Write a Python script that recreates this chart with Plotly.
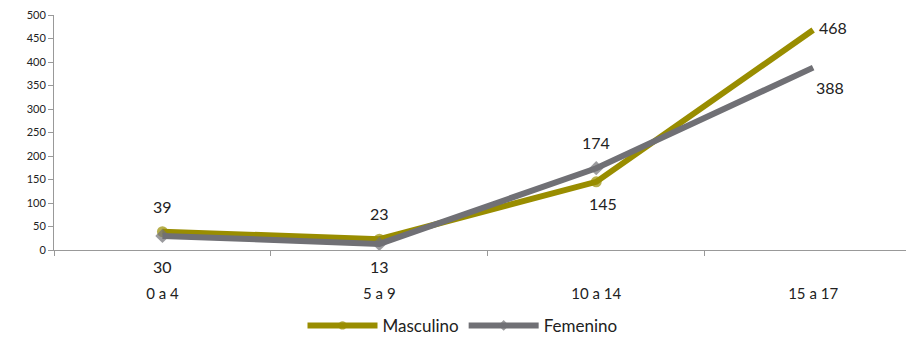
import plotly.graph_objects as go

categorias = ["0 a 4", "5 a 9", "10 a 14", "15 a 17"]
masculino = [39, 23, 145, 468]
femenino = [30, 13, 174, 388]

verde = "rgb(153,141,0)"
gris = "rgb(112,112,117)"
fuente = "Lato"

fig = go.Figure()
fig.add_trace(go.Scatter(x=categorias, y=masculino, name="Masculino", mode="lines+markers",
                         line=dict(color=verde, width=6),
                         marker=dict(symbol="circle", size=[11, 11, 11, 0], color=verde,
                                     line=dict(width=0))))
fig.add_trace(go.Scatter(x=categorias, y=femenino, name="Femenino", mode="lines+markers",
                         line=dict(color=gris, width=6),
                         marker=dict(symbol="diamond", size=[11, 11, 11, 0], color=gris,
                                     line=dict(width=0))))

# etiquetas de valores (desplazamiento en px)
pos_m = [(0, 25), (0, 26), (7, -22), (20, 3)]
pos_f = [(0, -31), (0, -23), (0, 26), (17, -20)]
for serie, pos in ((masculino, pos_m), (femenino, pos_f)):
    for cat, val, (dx, dy) in zip(categorias, serie, pos):
        fig.add_annotation(x=cat, y=val, text=str(val), showarrow=False,
                           xshift=dx, yshift=dy, font=dict(size=16, color="#222", family=fuente))

# la pagina tiene 8px de margen en el body
fig.update_layout(
    width=906, height=332,
    margin=dict(l=46, r=0, t=7, b=90, autoexpand=False),
    paper_bgcolor="white", plot_bgcolor="white",
    font=dict(family=fuente, color="#333"),
    showlegend=True,
    legend=dict(orientation="h", x=0.475, xanchor="center", y=-0.323, yanchor="middle",
                font=dict(size=17, color="#222"), itemwidth=70),
)
fig.update_xaxes(range=[-0.5, 3.465], showline=True, linecolor="#999", linewidth=1,
                 ticks="outside", tickson="boundaries", ticklen=5, tickcolor="#999",
                 showgrid=False, tickfont=dict(size=15, color="#222"), ticklabelstandoff=30,
                 automargin=False)
fig.update_yaxes(range=[0, 500], dtick=50, showline=True, linecolor="#999", linewidth=1,
                 ticks="outside", ticklen=5, tickcolor="#999", showgrid=False, zeroline=False,
                 tickfont=dict(size=11, color="#222"), automargin=False,
                 ticklabeloverflow="allow")

fig.write_html("out.html")
